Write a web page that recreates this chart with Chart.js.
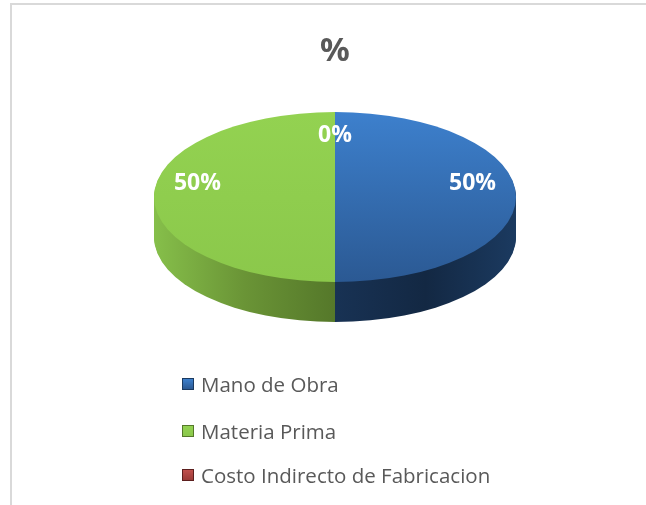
<!DOCTYPE html>
<html>
<head>
<meta charset="utf-8">
<script src="https://cdn.jsdelivr.net/npm/chart.js@4.4.0/dist/chart.umd.min.js"></script>
<style>
  body { margin: 0; background: #fff; }
  #wrap { position: relative; width: 646px; height: 505px; overflow: hidden; }
  #frame { position: absolute; left: 10px; top: 3px; width: 700px; height: 600px; border: 2px solid #d9d9d9; box-sizing: border-box; }
  #legend { position: absolute; left: 182px; top: 0; font-family: "Open Sans", sans-serif; font-size: 20.5px; color: #595959; }
  .item { position: absolute; left: 0; white-space: nowrap; display: flex; align-items: center; height: 26px; }
  .box { width: 12px; height: 12px; margin-right: 7px; box-sizing: border-box; }
</style>
</head>
<body>
<div id="wrap">
  <div id="frame"></div>
  <canvas id="chart" width="646" height="505"></canvas>
  <div id="legend"></div>
</div>
<script>
// data
var labels = ['Mano de Obra', 'Materia Prima', 'Costo Indirecto de Fabricacion'];
var values = [50, 50, 0];
var pctLabels = ['50%', '50%', '0%'];
var topColors = [['#3d80cd', '#2b5993'], ['#93d251', '#8bc84b'], ['#c0504d', '#9b3b38']];
var sideColors = [['#183254', '#132843', '#1b3a60'], ['#86bf4a', '#6a9436', '#55782a'], ['#7a2a28', '#6b2423', '#5c1f1e']];

// 3d look
var faceCy = 197;   // center of the top face on screen
var faceRy = 85;    // vertical half axis of the top face
var depth = 40;

function sideGrad(ctx, i, cx, r) {
  var g = ctx.createLinearGradient(cx - r, 0, cx + r, 0);
  var c = sideColors[i];
  if (i == 1) {
    g.addColorStop(0, c[0]); g.addColorStop(0.25, c[1]); g.addColorStop(0.5, c[2]); g.addColorStop(1, c[2]);
  } else {
    g.addColorStop(0, c[0]); g.addColorStop(0.5, c[0]); g.addColorStop(0.75, c[1]); g.addColorStop(1, c[2]);
  }
  return g;
}

const pie3d = {
  id: 'pie3d',
  beforeDatasetsDraw(chart) {
    const ctx = chart.ctx;
    const arcs = chart.getDatasetMeta(0).data;
    if (!arcs.length) return;
    const cx = arcs[0].x, cy = arcs[0].y, r = arcs[0].outerRadius;
    const k = faceRy / r;
    for (let d = depth; d >= 1; d--) {
      ctx.save();
      ctx.translate(0, faceCy + d);
      ctx.scale(1, k);
      ctx.translate(0, -cy);
      arcs.forEach((el, i) => {
        const o = el.options;
        el.options = Object.assign({}, o, { backgroundColor: sideGrad(ctx, i, cx, r), borderWidth: 0 });
        el.draw(ctx);
        el.options = o;
      });
      ctx.restore();
    }
    ctx.save();
    ctx.translate(0, faceCy);
    ctx.scale(1, k);
    ctx.translate(0, -cy);
  },
  afterDatasetsDraw(chart) {
    const ctx = chart.ctx;
    const arcs = chart.getDatasetMeta(0).data;
    if (!arcs.length) return;
    ctx.restore();
    const cx = arcs[0].x, r = arcs[0].outerRadius;
    ctx.save();
    ctx.fillStyle = '#ffffff';
    ctx.font = 'bold 23px "Open Sans", sans-serif';
    ctx.textAlign = 'center';
    ctx.textBaseline = 'middle';
    arcs.forEach((el, i) => {
      const a = (el.startAngle + el.endAngle) / 2;
      const x = cx + Math.cos(a) * 0.76 * r;
      const y = faceCy + Math.sin(a) * 0.72 * faceRy - 14 * Math.abs(Math.cos(a));
      ctx.fillText(pctLabels[i], x, y);
    });
    ctx.restore();
  }
};

function faceColor(c) {
  const chart = c.chart;
  const i = c.dataIndex;
  const area = chart.chartArea;
  if (!area) return topColors[i][0];
  const r = Math.min(area.right - area.left, area.bottom - area.top) / 2;
  const cy = (area.top + area.bottom) / 2;
  const g = chart.ctx.createLinearGradient(0, cy - r, 0, cy + r);
  g.addColorStop(0, topColors[i][0]);
  g.addColorStop(1, topColors[i][1]);
  return g;
}

new Chart(document.getElementById('chart').getContext('2d'), {
  type: 'pie',
  data: {
    labels: labels,
    datasets: [{
      data: values,
      backgroundColor: faceColor,
      borderWidth: 0,
      clip: false
    }]
  },
  options: {
    responsive: false,
    animation: false,
    events: [],
    layout: { padding: { left: 154, right: 130, top: 22, bottom: 40 } },
    plugins: {
      legend: { display: false },
      tooltip: { enabled: false },
      title: {
        display: true,
        text: '%',
        color: '#595959',
        font: { family: '"Noto Sans", sans-serif', size: 33, weight: 'bold' },
        padding: { top: 10, bottom: 10 }
      }
    }
  },
  plugins: [pie3d]
});

// legend
var rowsY = [384, 431, 475];
var legend = document.getElementById('legend');
labels.forEach(function(name, i) {
  var item = document.createElement('div');
  item.className = 'item';
  item.style.top = (rowsY[i] - 13) + 'px';
  var box = document.createElement('span');
  box.className = 'box';
  box.style.background = 'linear-gradient(to bottom, ' + topColors[i][0] + ', ' + topColors[i][1] + ')';
  box.style.border = '1px solid ' + sideColors[i][2];
  var txt = document.createElement('span');
  txt.textContent = name;
  item.appendChild(box);
  item.appendChild(txt);
  legend.appendChild(item);
});
</script>
</body>
</html>
